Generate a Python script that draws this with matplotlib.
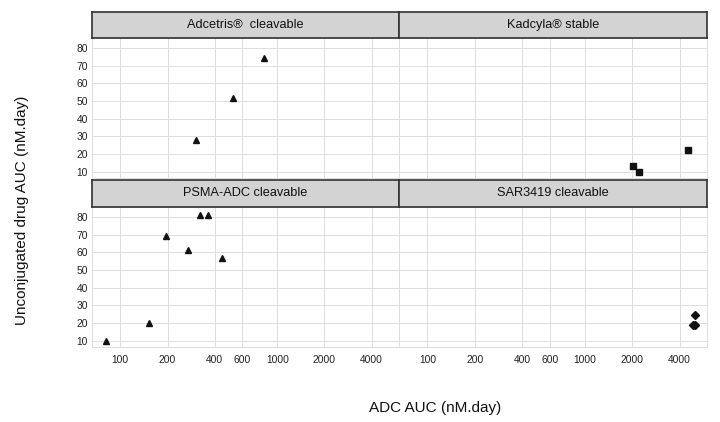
import matplotlib
matplotlib.use("Agg")
import matplotlib.pyplot as plt
from matplotlib.ticker import FixedLocator, FixedFormatter, NullLocator

plt.rcParams['font.family'] = ['Liberation Sans', 'DejaVu Sans']

# Data
panel_titles = ["Adcetris®  cleavable", "Kadcyla® stable", "PSMA-ADC cleavable", "SAR3419 cleavable"]

adcetris_x = [305, 521, 826]
adcetris_y = [28, 51.5, 74]

kadcyla_x = [2015, 2210, 4500]
kadcyla_y = [13.4, 10.0, 22.4]

psma_x = [81, 153, 196, 271, 320, 363, 446]
psma_y = [10, 20, 69, 61, 81, 81, 57]

sar_x = [4980, 4860, 4990]
sar_y = [24.6, 19.1, 18.8]

xticks = [100, 200, 400, 600, 1000, 2000, 4000]
xticklabels = ["100", "200", "400", "600", "1000", "2000", "4000"]
yticks = [10, 20, 30, 40, 50, 60, 70, 80]

W, H = 720, 422
fig = plt.figure(figsize=(7.2, 4.22), dpi=100)

def fx(px):
    return px / W

def fy(py):
    return 1 - py / H

panels = [
    # (left_px, right_px, top_px, bottom_px, strip_top, strip_bottom)
    (92, 399, 38, 178, 12, 38),
    (399, 707, 38, 178, 12, 38),
    (92, 399, 207, 347, 180, 207),
    (399, 707, 207, 347, 180, 207),
]
datasets = [
    (adcetris_x, adcetris_y, '^', 4.8),
    (kadcyla_x, kadcyla_y, 's', 4.5),
    (psma_x, psma_y, '^', 4.8),
    (sar_x, sar_y, 'D', 3.6),
]

for i, (l, r, t, b, st, sb) in enumerate(panels):
    ax = fig.add_axes([fx(l), fy(b), fx(r - l), (b - t) / H])
    xs, ys, m, ms = datasets[i]
    ax.plot(xs, ys, linestyle='none', marker=m, markersize=ms, color='#111111', zorder=3)
    ax.set_xscale('log')
    ax.set_xlim(66, 5970)
    ax.set_ylim(6.6, 85.5)
    ax.xaxis.set_major_locator(FixedLocator(xticks))
    ax.xaxis.set_major_formatter(FixedFormatter(xticklabels))
    ax.xaxis.set_minor_locator(NullLocator())
    ax.yaxis.set_major_locator(FixedLocator(yticks))
    ax.grid(True, color='#dddddd', linewidth=0.7)
    ax.set_axisbelow(True)
    for s in ax.spines.values():
        s.set_color('#dddddd')
        s.set_linewidth(0.7)
    ax.tick_params(length=0, labelsize=7.4, colors='#222222', pad=3)
    if i in (0, 2):
        ax.tick_params(axis='y', labelleft=True)
    else:
        ax.tick_params(axis='y', labelleft=False)
    if i in (2, 3):
        ax.tick_params(axis='x', labelbottom=True, pad=6)
    else:
        ax.tick_params(axis='x', labelbottom=False)

    sax = fig.add_axes([fx(l), fy(sb), fx(r - l), (sb - st) / H])
    sax.set_facecolor('#d3d3d3')
    sax.set_xticks([])
    sax.set_yticks([])
    for s in sax.spines.values():
        s.set_color('#333333')
        s.set_linewidth(1.2)
    sax.text(0.5, 0.5, panel_titles[i], ha='center', va='center', fontsize=9.2,
             color='#111111', transform=sax.transAxes)

fig.text(fx(22), fy(210), "Unconjugated drug AUC (nM.day)", rotation=90,
         ha='center', va='center', fontsize=11, color='#111111')
fig.text(fx(435), fy(408), "ADC AUC (nM.day)", ha='center', va='center',
         fontsize=11, color='#111111')

fig.savefig("out.png", dpi=100)
